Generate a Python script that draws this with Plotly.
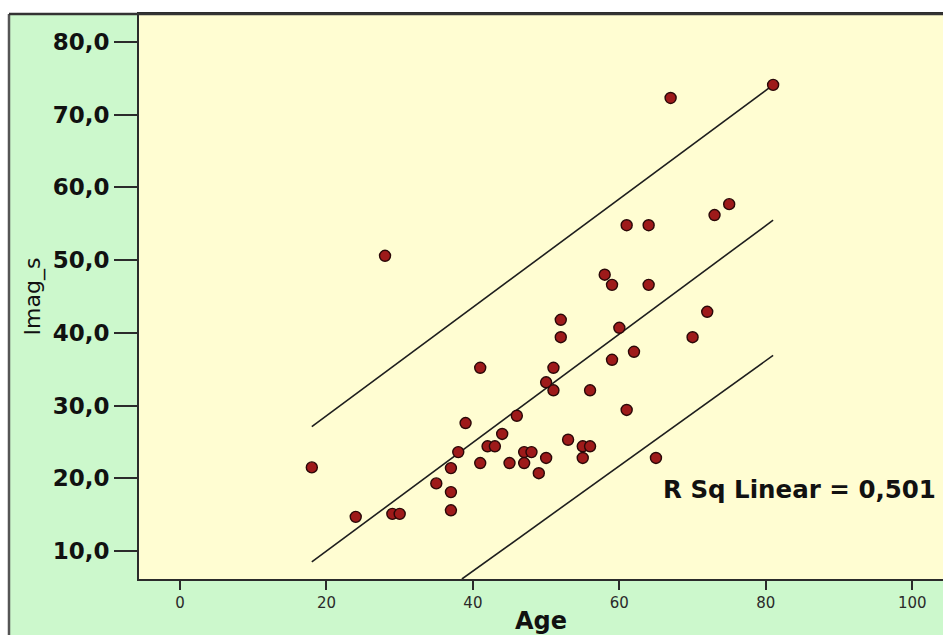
import plotly.graph_objects as go

# Scatter data
age = [18, 24, 29, 30, 28, 35, 37, 37, 37, 38, 39, 41, 41, 42, 43, 44, 45, 46,
       47, 48, 47, 49, 50, 50, 51, 51, 52, 52, 53, 55, 56, 55, 56, 58, 59, 59,
       60, 62, 61, 61, 64, 64, 65, 67, 70, 72, 73, 75, 81]
imag_s = [21.5, 14.7, 15.1, 15.1, 50.6, 19.3, 21.4, 18.1, 15.6, 23.6, 27.6,
          35.2, 22.1, 24.4, 24.4, 26.1, 22.1, 28.6, 23.6, 23.6, 22.1, 20.7,
          22.8, 33.2, 35.2, 32.1, 41.8, 39.4, 25.3, 24.4, 24.4, 22.8, 32.1,
          48.0, 46.6, 36.3, 40.7, 37.4, 29.4, 54.8, 54.8, 46.6, 22.8, 72.3,
          39.4, 42.9, 56.2, 57.7, 74.1]

# Fit line and prediction-interval lines (end points)
fit_x = [18, 81]
fit_y = [8.5, 55.5]
upper_x = [18, 81]
upper_y = [27.1, 74.1]
lower_x = [38.5, 81]
lower_y = [6.15, 36.9]

x_ticks = [0, 20, 40, 60, 80, 100]
y_ticks = [10, 20, 30, 40, 50, 60, 70, 80]
r2_text = "R Sq Linear = 0,501"

GREEN = "#ccf8cc"
YELLOW = "#fffdd2"
LINE = "#2b2b2b"

fig = go.Figure()
for xs, ys in [(upper_x, upper_y), (fit_x, fit_y), (lower_x, lower_y)]:
    fig.add_trace(go.Scatter(x=xs, y=ys, mode="lines",
                             line=dict(color="#1e1e1e", width=1.6),
                             showlegend=False, hoverinfo="skip"))
fig.add_trace(go.Scatter(x=age, y=imag_s, mode="markers",
                         marker=dict(size=11, color="#9e1a1a",
                                     line=dict(color="#2a0808", width=1.4)),
                         showlegend=False))

fig.add_annotation(x=65.7, y=18.4, xref="x", yref="y", text=r2_text,
                   showarrow=False, xanchor="left", yanchor="middle",
                   font=dict(family="DejaVu Sans", size=24.5, color="#111111",
                             weight="bold"))

# white strips outside the green chart frame, and frame border
shapes = [
    dict(type="rect", xref="paper", yref="paper", x0=-0.6, x1=-0.1617, y0=-0.6, y1=1.6,
         fillcolor="white", line=dict(width=0), layer="below"),
    dict(type="rect", xref="paper", yref="paper", x0=-0.6, x1=1.6, y0=1.0, y1=1.6,
         fillcolor="white", line=dict(width=0), layer="below"),
    dict(type="line", xref="paper", yref="paper", x0=-0.1617, x1=-0.1617, y0=-0.6, y1=1.0,
         line=dict(color="#555555", width=2.5)),
    dict(type="line", xref="paper", yref="paper", x0=-0.1617, x1=1.6, y0=1.0, y1=1.0,
         line=dict(color="#333333", width=2.5)),
]

fig.update_layout(
    width=943, height=635,
    margin=dict(l=139, r=0, t=14, b=56),
    paper_bgcolor=GREEN, plot_bgcolor=YELLOW,
    separators=",.",
    shapes=shapes,
    xaxis=dict(range=[-5.6, 104.2], tickvals=x_ticks, ticks="outside", ticklen=9,
               tickwidth=2, tickcolor=LINE, showline=True, linecolor=LINE,
               linewidth=2, mirror=True, showgrid=False, zeroline=False,
               tickfont=dict(family="DejaVu Sans", size=15, color="#2a2a2a"),
               title=dict(text="Age", standoff=7,
                          font=dict(family="DejaVu Sans", size=24, color="#111111",
                                    weight="bold"))),
    yaxis=dict(range=[6.15, 83.85], tickvals=y_ticks, tickformat=".1f",
               ticks="outside", ticklen=23, tickwidth=2, tickcolor=LINE,
               showline=True, linecolor=LINE, linewidth=2, showgrid=False,
               zeroline=False,
               tickfont=dict(family="DejaVu Sans", size=23, color="#111111",
                             weight="bold"),
               title=dict(text="Imag_s", standoff=6,
                          font=dict(family="DejaVu Sans", size=22, color="#111111"))),
)

fig.write_html("out.html")
